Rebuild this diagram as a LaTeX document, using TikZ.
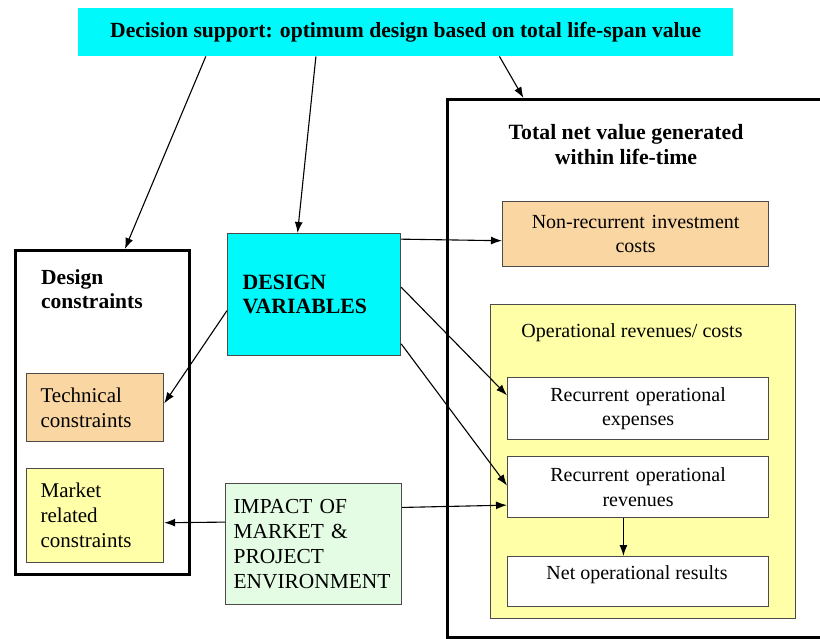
\documentclass[tikz,border=0pt]{standalone}
\usepackage{fontspec}
\setmainfont{Liberation Serif}
\usetikzlibrary{arrows.meta,calc}
\definecolor{cyanbox}{RGB}{0,250,252}
\definecolor{tanbox}{RGB}{250,214,162}
\definecolor{yellowbox}{RGB}{255,255,168}
\definecolor{greenbox}{RGB}{228,252,228}
\definecolor{edgegray}{RGB}{75,75,75}
\begin{document}
\begin{tikzpicture}[x=1pt,y=-1pt,
  thinbox/.style={draw=edgegray, line width=1.2pt, inner ysep=0pt, anchor=north west,
    font=\fontsize{20}{24.5}\selectfont},
  thickbox/.style={draw=black, line width=3.2pt, inner sep=0pt, anchor=north west},
  lbl/.style={inner sep=0pt, font=\fontsize{20}{24.5}\selectfont},
  arr/.style={-{Latex[length=11pt,width=8pt]}, line width=1.1pt, black}]
\useasboundingbox (0,0) rectangle (820,638);
\clip (0,0) rectangle (820,638);

% top decision box
\node[fill=cyanbox, inner sep=0pt, anchor=north west, minimum width=655pt, minimum height=48pt,
  font=\fontsize{21.6}{24}\selectfont\bfseries] (top) at (78,8) {Decision support: optimum design based on total life-span value};

% design constraints
\node[thickbox, minimum width=174pt, minimum height=324pt] (dc) at (14,249) {};
\node[lbl, anchor=west, align=left, font=\fontsize{21.5}{24}\selectfont\bfseries] (dctitle) at (41,289) {Design\\constraints};
\node[thinbox, fill=tanbox, minimum width=137pt, minimum height=68pt, inner xsep=14pt,
  text width=109pt, align=left, font=\fontsize{21}{25}\selectfont] (tech) at (26,373) {Technical\\constraints};
\node[thinbox, fill=yellowbox, minimum width=137pt, minimum height=94pt, inner xsep=14pt,
  text width=109pt, align=left, font=\fontsize{21}{25}\selectfont] (market) at (26,468) {Market\\related\\constraints};

% design variables
\node[thinbox, fill=cyanbox, minimum width=173pt, minimum height=122pt, inner xsep=15pt,
  text width=143pt, align=left, font=\fontsize{21.8}{24}\selectfont\bfseries] (dv) at (227,233) {DESIGN\\VARIABLES\\[4pt]};

% impact
\node[thinbox, fill=greenbox, minimum width=176pt, minimum height=121pt, inner xsep=8pt,
  text width=160pt, align=left, font=\fontsize{21.4}{25}\selectfont] (impact) at (225,483) {IMPACT OF\\MARKET \&\\PROJECT\\ENVIRONMENT\\[3pt]};

% total net value
\node[thickbox, minimum width=394pt, minimum height=538pt] (total) at (446,98) {};
\node[lbl, align=center, font=\fontsize{21.8}{25}\selectfont\bfseries] (totaltitle) at (626,145) {Total net value generated\\within life-time};
\node[thinbox, fill=tanbox, minimum width=266pt, minimum height=65pt, inner xsep=4pt,
  text width=258pt, align=center] (nonrec) at (502,201) {Non-recurrent investment\\costs};
\node[thinbox, fill=yellowbox, minimum width=305pt, minimum height=314pt] (oper) at (490,304) {};
\node[lbl] (opertitle) at (632,333) {Operational revenues/ costs};
\node[thinbox, fill=white, minimum width=261pt, minimum height=62pt, inner xsep=4pt,
  text width=253pt, align=center] (recexp) at (507,377) {Recurrent operational\\expenses};
\node[thinbox, fill=white, minimum width=261pt, minimum height=61pt, inner xsep=4pt,
  text width=253pt, align=center] (recrev) at (507,456) {Recurrent operational\\revenues};
\node[thinbox, fill=white, minimum width=261pt, minimum height=50pt] (net) at (507,556) {};
\node[lbl] (nettext) at (637,575) {Net operational results};

% connectors
\draw[arr] ($(top.south west)!0.195!(top.south east)$) -- ($(dc.north west)!0.626!(dc.north east)$);
\draw[arr] ($(top.south west)!0.363!(top.south east)$) -- ($(dv.north west)!0.405!(dv.north east)$);
\draw[arr] ($(top.south west)!0.643!(top.south east)$) -- ($(total.north west)!0.195!(total.north east)$);
\draw[arr] ($(dv.north west)!0.63!(dv.south west)$) -- ($(tech.north east)!0.44!(tech.south east)$);
\draw[arr] ($(dv.north east)!0.05!(dv.south east)$) -- ($(nonrec.north west)!0.6!(nonrec.south west)$);
\draw[arr] ($(dv.north east)!0.44!(dv.south east)$) -- ($(recexp.north west)!0.29!(recexp.south west)$);
\draw[arr] ($(dv.north east)!0.9!(dv.south east)$) -- ($(recrev.north west)!0.475!(recrev.south west)$);
\draw[arr] ($(impact.north west)!0.32!(impact.south west)$) -- ($(market.north east)!0.575!(market.south east)$);
\draw[arr] ($(impact.north east)!0.2!(impact.south east)$) -- ($(recrev.north west)!0.79!(recrev.south west)$);
\draw[arr] ($(recrev.south west)!0.444!(recrev.south east)$) -- ($(net.north west)!0.444!(net.north east)$);
\end{tikzpicture}
\end{document}
